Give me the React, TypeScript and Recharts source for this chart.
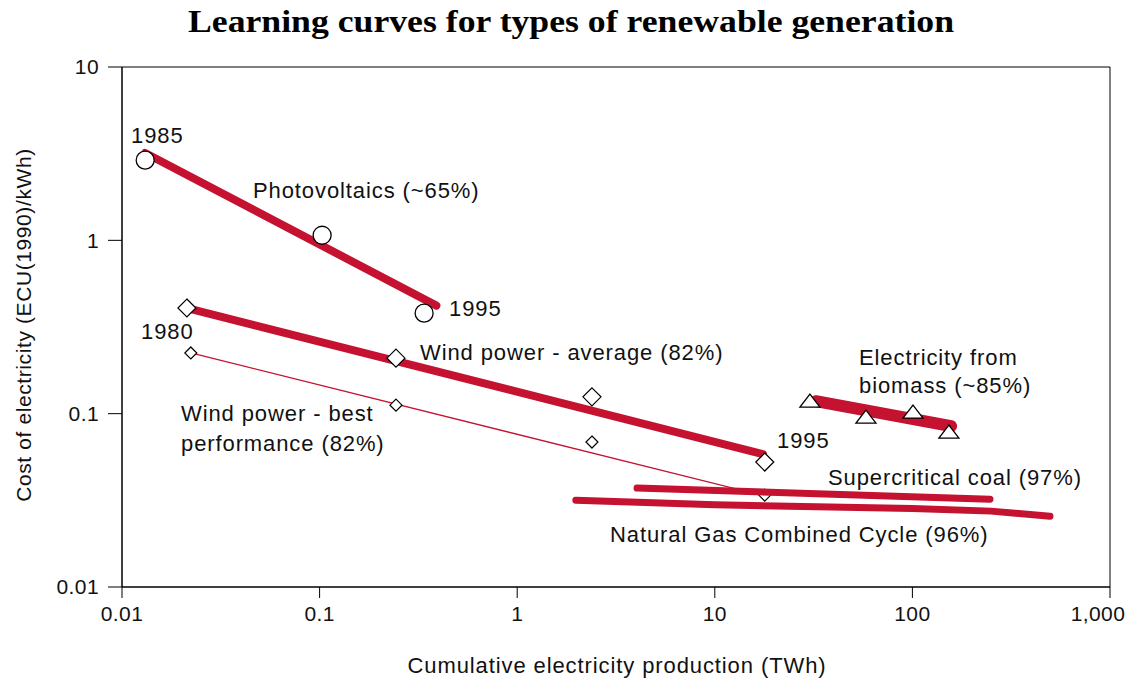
import React from "react";
import {
  ComposedChart,
  Scatter,
  XAxis,
  YAxis,
  ReferenceArea,
} from "recharts";

const RED = "#c41230";
const FONT = "'Liberation Sans', Arial, sans-serif";

// x ticks / y ticks
const xTicks = [0.01, 0.1, 1, 10, 100, 1000];
const yTicks = [0.01, 0.1, 1, 10];

// Photovoltaics
const pvX = [0.0131, 0.103, 0.338];
const pvY = [2.9, 1.07, 0.38];
const pvLineX = [0.0131, 0.39];
const pvLineY = [3.19, 0.42];

// Wind power - average
const windAvgX = [0.0213, 0.2435, 2.39, 17.9];
const windAvgY = [0.407, 0.209, 0.125, 0.0526];
const windAvgLineX = [0.0226, 17.5];
const windAvgLineY = [0.4, 0.0585];

// Wind power - best performance
const windBestX = [0.0223, 0.2435, 2.39, 17.9];
const windBestY = [0.224, 0.112, 0.0686, 0.0339];
const windBestLineX = [0.0223, 17.9];
const windBestLineY = [0.224, 0.0335];

// Biomass
const bioX = [30.3, 58.2, 100.7, 153];
const bioY = [0.1167, 0.0943, 0.1008, 0.0773];
const bioLineX = [32.5, 157];
const bioLineY = [0.118, 0.0848];

// Supercritical coal
const coalX = [4.04, 247];
const coalY = [0.0372, 0.0321];

// Natural gas combined cycle
const ngccX = [1.98, 10, 100, 250, 497];
const ngccY = [0.0317, 0.0298, 0.0284, 0.0274, 0.0256];

const zip = (xs: number[], ys: number[]) => xs.map((x, i) => ({ x, y: ys[i] }));

const Circle = (p: any) => (
  <circle cx={p.cx} cy={p.cy} r={9} fill="#fff" stroke="#000" strokeWidth={1.3} />
);
const diamond = (r: number) => (p: any) => (
  <polygon
    points={`${p.cx},${p.cy - r} ${p.cx + r},${p.cy} ${p.cx},${p.cy + r} ${p.cx - r},${p.cy}`}
    fill="#fff"
    stroke="#000"
    strokeWidth={1.2}
  />
);
const Triangle = (p: any) => (
  <polygon
    points={`${p.cx},${p.cy - 8} ${p.cx + 10},${p.cy + 5} ${p.cx - 10},${p.cy + 5}`}
    fill="#fff"
    stroke="#000"
    strokeWidth={1.3}
  />
);
const None = () => <g />;

const fmtX = (v: number) => (v === 1000 ? "1,000" : String(v));

const XTick = (p: any) => {
  const v = p.payload.value;
  return (
    <text
      x={v === 1000 ? p.x - 12 : p.x}
      y={p.y}
      dy="0.71em"
      textAnchor="middle"
      fontFamily={FONT}
      fontSize={21}
      letterSpacing={0.4}
      fill="#111"
    >
      {fmtX(v)}
    </text>
  );
};

const labels: [string, number, number][] = [
  ["1985", 131, 143],
  ["Photovoltaics (~65%)", 253, 198],
  ["1995", 449, 316],
  ["1980", 141, 339],
  ["Wind power - average (82%)", 420, 360],
  ["Wind power - best", 181, 421],
  ["performance (82%)", 181, 451],
  ["1995", 777, 448],
  ["Electricity from", 859, 365],
  ["biomass (~85%)", 859, 393],
  ["Supercritical coal (97%)", 828, 485],
  ["Natural Gas Combined Cycle (96%)", 610, 542],
];

const thick = (w: number) => ({ stroke: RED, strokeWidth: w, strokeLinecap: "round" as const });

export default function App() {
  const tickStyle = { fill: "#111", fontSize: 21, fontFamily: FONT, letterSpacing: 0.4 };
  return (
    <div style={{ position: "absolute", left: 0, top: 0, width: 1133, height: 681, background: "#fff" }}>
      <ComposedChart
        width={1133}
        height={681}
        margin={{ top: 67, right: 23, left: 0, bottom: 0 }}
      >
        <XAxis
          dataKey="x"
          type="number"
          scale="log"
          domain={[0.01, 1000]}
          ticks={xTicks}
          allowDataOverflow
          height={94}
          tickSize={11}
          tickMargin={8}
          axisLine={{ stroke: "#000" }}
          tickLine={{ stroke: "#000" }}
          tick={XTick}
        />
        <YAxis
          dataKey="y"
          type="number"
          scale="log"
          domain={[0.01, 10]}
          ticks={yTicks}
          allowDataOverflow
          width={122}
          tickSize={14}
          tickMargin={9}
          axisLine={{ stroke: "#000" }}
          tickLine={{ stroke: "#000" }}
          tick={tickStyle}
        />
        <ReferenceArea x1={0.01} x2={1000} y1={0.01} y2={10} fill="none" stroke="#000" strokeWidth={1} />

        <Scatter data={zip(pvLineX, pvLineY)} line={thick(8)} lineType="joint" shape={None} isAnimationActive={false} />
        <Scatter data={zip(windAvgLineX, windAvgLineY)} line={thick(8)} lineType="joint" shape={None} isAnimationActive={false} />
        <Scatter data={zip(windBestLineX, windBestLineY)} line={{ stroke: RED, strokeWidth: 1.3 }} lineType="joint" shape={None} isAnimationActive={false} />
        <Scatter data={zip(bioLineX, bioLineY)} line={thick(12)} lineType="joint" shape={None} isAnimationActive={false} />

        <Scatter data={zip(pvX, pvY)} shape={Circle} isAnimationActive={false} />
        <Scatter data={zip(windAvgX, windAvgY)} shape={diamond(9)} isAnimationActive={false} />
        <Scatter data={zip(windBestX, windBestY)} shape={diamond(6)} isAnimationActive={false} />
        <Scatter data={zip(bioX, bioY)} shape={Triangle} isAnimationActive={false} />

        <Scatter data={zip(coalX, coalY)} line={thick(7)} lineType="joint" shape={None} isAnimationActive={false} />
        <Scatter data={zip(ngccX, ngccY)} line={{ ...thick(7), strokeLinejoin: "round" }} lineType="joint" shape={None} isAnimationActive={false} />
      </ComposedChart>

      <svg
        width={1133}
        height={681}
        style={{ position: "absolute", left: 0, top: 0, pointerEvents: "none" }}
      >
        <text
          x={571}
          y={32}
          textAnchor="middle"
          fontFamily="'Liberation Serif', 'Times New Roman', serif"
          fontWeight="bold"
          fontSize={31}
          textLength={766}
          lengthAdjust="spacingAndGlyphs"
          fill="#000"
        >
          Learning curves for types of renewable generation
        </text>
        {labels.map(([t, x, y], i) => (
          <text key={i} x={x} y={y} fontFamily={FONT} fontSize={22} letterSpacing={0.9} fill="#111">
            {t}
          </text>
        ))}
        <text x={617} y={673} textAnchor="middle" fontFamily={FONT} fontSize={22} letterSpacing={0.9} fill="#111">
          Cumulative electricity production (TWh)
        </text>
        <text
          x={0}
          y={0}
          transform="translate(31,325) rotate(-90)"
          textAnchor="middle"
          fontFamily={FONT}
          fontSize={21}
          letterSpacing={0.6}
          fill="#111"
        >
          Cost of electricity (ECU(1990)/kWh)
        </text>
      </svg>
    </div>
  );
}
